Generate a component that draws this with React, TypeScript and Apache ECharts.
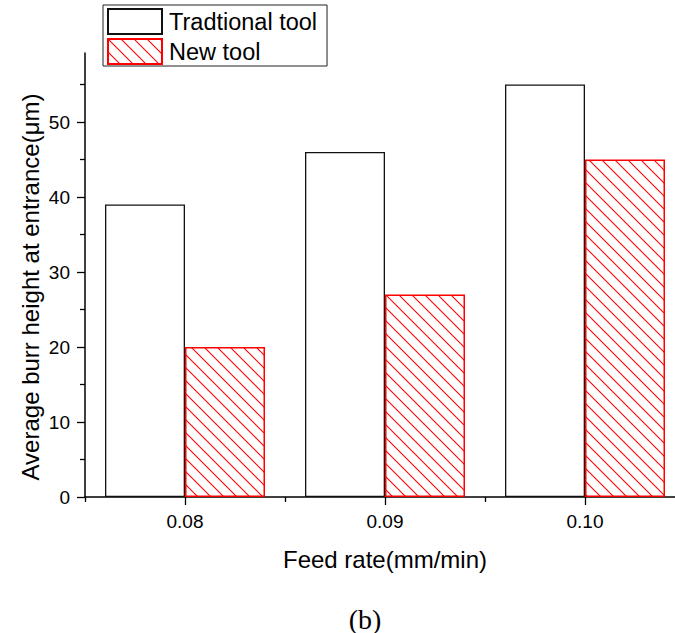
import React, { useEffect, useRef } from 'react';
import * as echarts from 'echarts';

// Feed rates (mm/min) and average entrance burr heights (μm)
const feedRates = ['0.08', '0.09', '0.10'];
const traditionalTool = [39, 46, 55];
const newTool = [20, 27, 45];

const majorTicks = [0, 10, 20, 30, 40, 50];
const minorTicks = [5, 15, 25, 35, 45, 55];

const FONT = '"Liberation Sans", Arial, sans-serif';

// Red diagonal hatch ("\\\\") tile used to fill the new-tool bars
function makeHatch(): HTMLCanvasElement {
  const s = 13;
  const c = document.createElement('canvas');
  c.width = s;
  c.height = s;
  const ctx = c.getContext('2d')!;
  ctx.strokeStyle = '#ff0000';
  ctx.lineWidth = 1.1;
  for (let k = -1; k <= 1; k++) {
    ctx.beginPath();
    ctx.moveTo(k * s - 1, -1);
    ctx.lineTo(k * s + s + 1, s + 1);
    ctx.stroke();
  }
  return c;
}

export default function App() {
  const ref = useRef<HTMLDivElement>(null);

  useEffect(() => {
    document.body.style.margin = '0';
    const chart = echarts.init(ref.current!, null, { renderer: 'svg' });
    const axisLine = { show: true, lineStyle: { color: '#000', width: 1.5 } };
    const tickStyle = { color: '#000', width: 1.3 };

    chart.setOption({
      animation: false,
      backgroundColor: '#fff',
      grid: { left: 85, right: -10, top: 53, bottom: 136, containLabel: false, outerBoundsMode: 'none' },
      legend: {
        left: 103,
        top: 5,
        orient: 'vertical',
        icon: 'rect',
        itemWidth: 54,
        itemHeight: 25,
        itemGap: 3,
        padding: [3, 10, 1, 4],
        borderColor: '#222',
        borderWidth: 1,
        textStyle: { fontSize: 23.5, color: '#000', fontFamily: FONT, padding: [0, 0, 0, 2] },
        data: ['Tradtional tool', 'New tool'],
      },
      xAxis: [
        {
          type: 'category',
          data: feedRates,
          position: 'bottom',
          axisLine,
          axisTick: { show: true, alignWithLabel: true, length: 8, lineStyle: tickStyle },
          axisLabel: { margin: 15, fontSize: 19, color: '#000', fontFamily: FONT },
          name: 'Feed rate(mm/min)',
          nameLocation: 'middle',
          nameGap: 50,
          nameTextStyle: { fontSize: 24, color: '#000', fontFamily: FONT },
        },
        {
          type: 'category',
          data: feedRates,
          position: 'bottom',
          axisLine: { show: false },
          axisTick: { show: true, length: 5, lineStyle: tickStyle },
          axisLabel: { show: false },
        },
      ],
      yAxis: [
        {
          type: 'value',
          min: 0,
          max: 59.2,
          position: 'left',
          axisLine,
          axisTick: { show: true, length: 8, customValues: majorTicks, lineStyle: tickStyle },
          axisLabel: { customValues: majorTicks, margin: 15, fontSize: 19, color: '#000', fontFamily: FONT },
          splitLine: { show: false },
        },
        {
          type: 'value',
          min: 0,
          max: 59.2,
          position: 'left',
          axisLine: { show: false },
          axisTick: { show: true, length: 5, customValues: minorTicks, lineStyle: tickStyle },
          axisLabel: { show: false },
          splitLine: { show: false },
        },
      ],
      series: [
        {
          name: 'Tradtional tool',
          type: 'bar',
          xAxisIndex: 0,
          yAxisIndex: 0,
          data: traditionalTool,
          barWidth: 80,
          barGap: '0%',
          itemStyle: { color: '#fff', borderColor: '#111', borderWidth: 1.3 },
        },
        {
          name: 'New tool',
          type: 'bar',
          xAxisIndex: 0,
          yAxisIndex: 0,
          data: newTool,
          barWidth: 80,
          barGap: '0%',
          itemStyle: {
            color: { image: makeHatch(), repeat: 'repeat' },
            borderColor: '#ff0000',
            borderWidth: 1.5,
          },
        },
      ],
      graphic: [
        {
          type: 'text',
          x: 30,
          y: 287,
          rotation: Math.PI / 2,
          style: {
            text: 'Average burr height at entrance(μm)',
            fontSize: 24,
            fontFamily: FONT,
            fill: '#000',
            textAlign: 'center',
            textVerticalAlign: 'middle',
          },
        },
        {
          type: 'text',
          x: 365,
          y: 619,
          style: {
            text: '(b)',
            fontSize: 28,
            fontFamily: '"Liberation Serif", "Times New Roman", serif',
            fill: '#000',
            textAlign: 'center',
            textVerticalAlign: 'middle',
          },
        },
      ],
    });

    return () => chart.dispose();
  }, []);

  return <div ref={ref} style={{ width: 675, height: 633 }} />;
}
